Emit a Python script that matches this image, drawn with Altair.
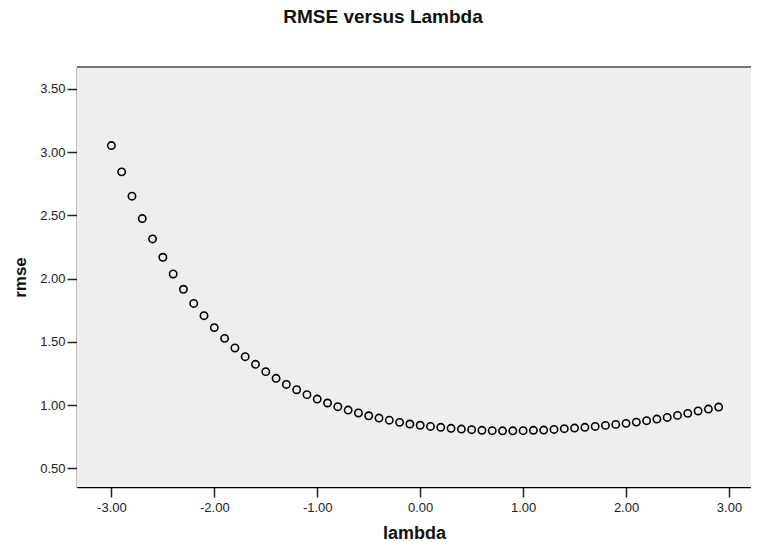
import altair as alt
import pandas as pd

lambdas = [round(-3.0 + 0.1 * i, 1) for i in range(60)]
rmse = [3.051, 2.843, 2.651, 2.474, 2.313, 2.168, 2.036, 1.915, 1.803, 1.706,
        1.612, 1.527, 1.451, 1.382, 1.322, 1.264, 1.211, 1.163, 1.121, 1.082,
        1.047, 1.016, 0.987, 0.960, 0.937, 0.915, 0.897, 0.880, 0.863, 0.850,
        0.840, 0.831, 0.824, 0.816, 0.810, 0.805, 0.800, 0.797, 0.796, 0.796,
        0.797, 0.800, 0.802, 0.807, 0.813, 0.818, 0.824, 0.831, 0.839, 0.847,
        0.855, 0.865, 0.876, 0.889, 0.902, 0.918, 0.934, 0.953, 0.968, 0.984]
x_ticks = [-3, -2, -1, 0, 1, 2, 3]
y_ticks = [0.5, 1.0, 1.5, 2.0, 2.5, 3.0, 3.5]

df = pd.DataFrame({"lambda": lambdas, "rmse": rmse})

FONT = "Liberation Sans"
W, H = 674, 420
LABEL = "(datum.value < 0 ? '-' : '') + format(abs(datum.value), '.2f')"

background = alt.Chart(alt.Data(values=[{"bg": 1}])).mark_rect(
    fill="#EEEEEE", stroke=None
).encode(x=alt.value(0), x2=alt.value(W), y=alt.value(0), y2=alt.value(H))

points = alt.Chart(df).mark_point(
    shape="circle", filled=False, stroke="black", strokeWidth=1.6, size=54, opacity=1
).encode(
    x=alt.X("lambda:Q",
            scale=alt.Scale(domain=[-3.334, 3.214], nice=False, zero=False),
            axis=alt.Axis(values=x_ticks, labelExpr=LABEL, title="lambda",
                          grid=False, domainColor="black", domainWidth=1.5,
                          tickColor="#222", tickWidth=1.5, tickSize=10,
                          labelPadding=4, labelFontSize=13, labelFont=FONT,
                          labelColor="#222", titleFont=FONT, titleFontSize=18,
                          titleFontWeight="bold", titleColor="#111",
                          titlePadding=10, labelFlush=False)),
    y=alt.Y("rmse:Q",
            scale=alt.Scale(domain=[0.352, 3.672], nice=False, zero=False),
            axis=alt.Axis(values=y_ticks, labelExpr=LABEL, title="rmse",
                          grid=False, domainColor="black", domainWidth=1.5,
                          tickColor="#222", tickWidth=1.5, tickSize=10,
                          labelPadding=2, labelFontSize=13, labelFont=FONT,
                          labelColor="#222", titleFont=FONT, titleFontSize=17,
                          titleFontWeight="bold", titleColor="#111",
                          titlePadding=10, labelFlush=False)),
)

top_border = alt.Chart(alt.Data(values=[{"b": 1}])).mark_rule(
    color="#777777", strokeWidth=2
).encode(x=alt.value(0), x2=alt.value(W), y=alt.value(0))

chart = alt.layer(background, points, top_border).properties(
    width=W, height=H,
    title=alt.TitleParams("RMSE versus Lambda", font=FONT, fontSize=19,
                          fontWeight="bold", color="#111", anchor="middle",
                          baseline="alphabetic", offset=24, dx=-31),
    autosize=alt.AutoSizeParams(type="none"),
    padding={"left": 69, "top": 59, "right": 0, "bottom": 55},
).configure_view(stroke="transparent").configure(background="white")

chart.save("out.html", embed_options={"renderer": "svg", "actions": False})
